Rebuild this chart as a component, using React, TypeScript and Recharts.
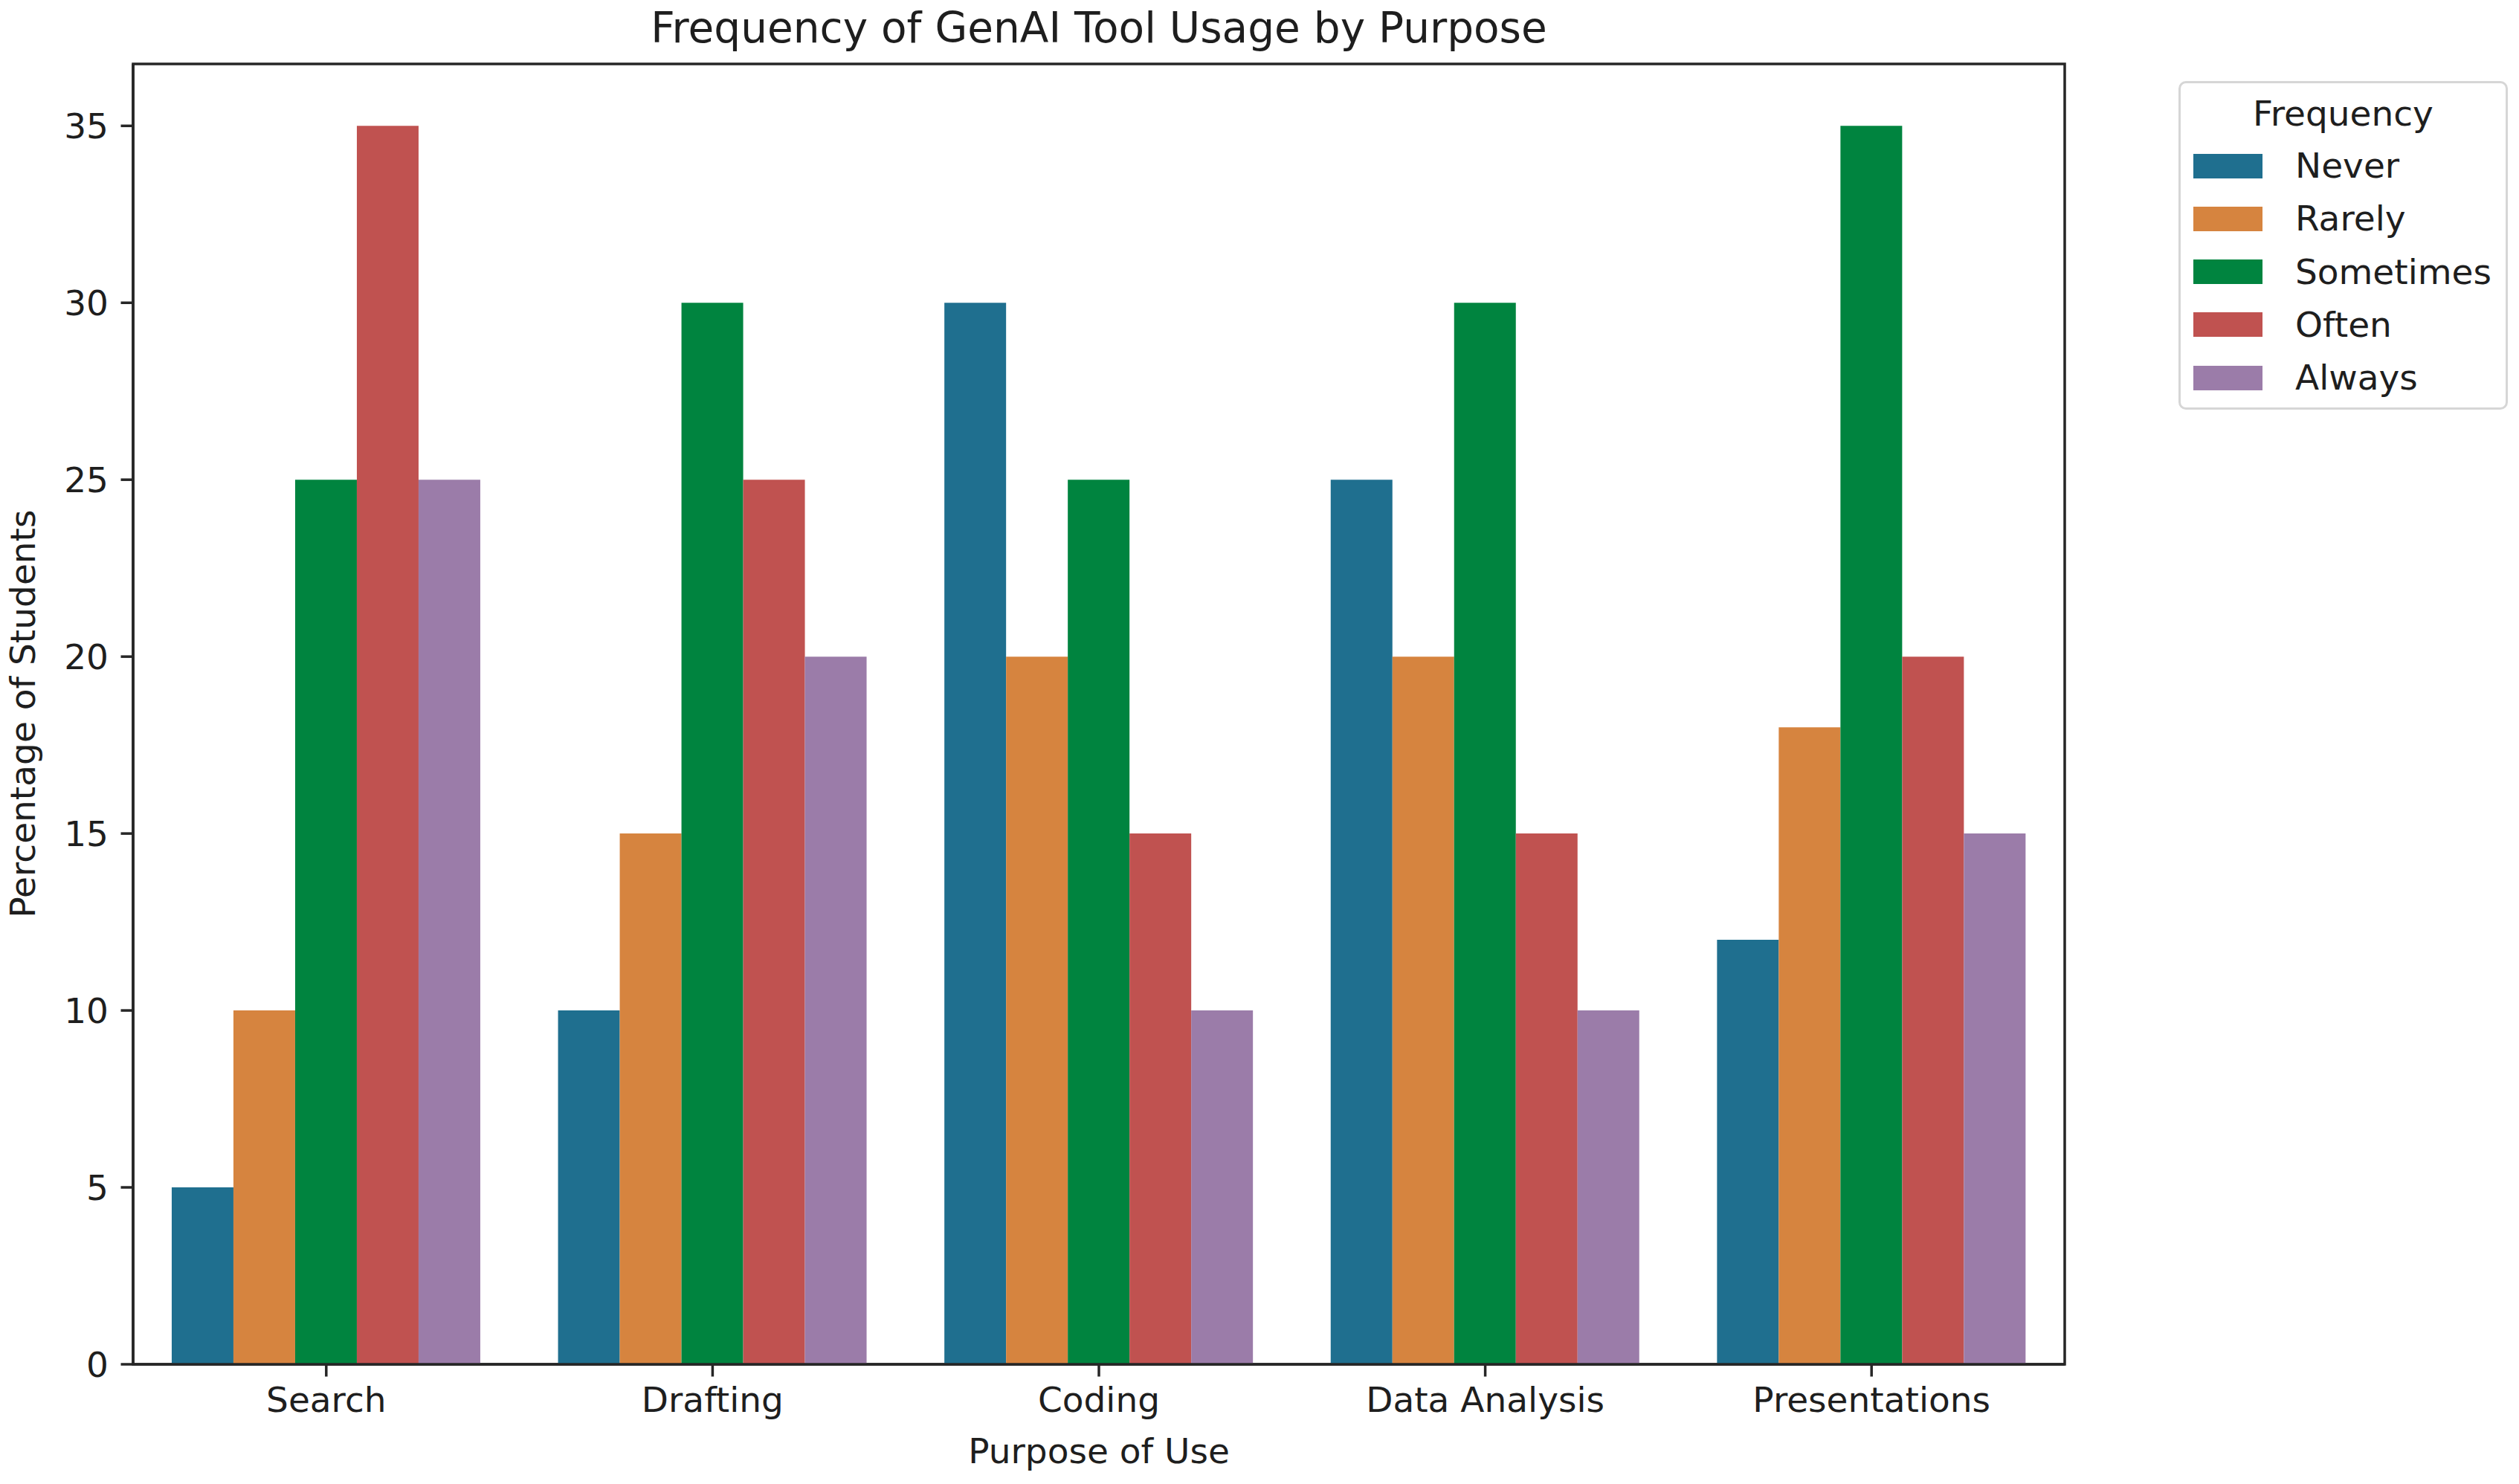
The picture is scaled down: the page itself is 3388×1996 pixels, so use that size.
import React from 'react';
import { BarChart, Bar, XAxis, YAxis, Legend, ReferenceArea } from 'recharts';

const categories = ['Search', 'Drafting', 'Coding', 'Data Analysis', 'Presentations'];
const frequencies = ['Never', 'Rarely', 'Sometimes', 'Often', 'Always'];
const neverValues = [5, 10, 30, 25, 12];
const rarelyValues = [10, 15, 20, 20, 18];
const sometimesValues = [25, 30, 25, 30, 35];
const oftenValues = [35, 25, 15, 15, 20];
const alwaysValues = [25, 20, 10, 10, 15];
const yTicks = [0, 5, 10, 15, 20, 25, 30, 35];
const yMax = 36.75;
const colors = ['#1f6f8f', '#d6843f', '#00843f', '#c05250', '#9b7ca9'];

const seriesValues = [neverValues, rarelyValues, sometimesValues, oftenValues, alwaysValues];

const data = categories.map((c, i) => {
  const row: any = { purpose: c };
  frequencies.forEach((f, j) => {
    row[f] = seriesValues[j][i];
  });
  return row;
});

const FONT = 'DejaVu Sans, Liberation Sans, sans-serif';
const INK = '#1e1e1e';
const SPINE = '#262626';

const LegendBox = () => (
  <div
    style={{
      position: 'relative',
      width: 443,
      height: 442,
      boxSizing: 'border-box',
      border: '3px solid #d6d6d6',
      borderRadius: 10,
      background: 'rgba(255,255,255,0.8)',
      fontFamily: FONT,
      color: INK,
    }}
  >
    <div
      style={{
        position: 'absolute',
        left: 0,
        right: 0,
        top: 41 - 30,
        height: 60,
        lineHeight: '60px',
        textAlign: 'center',
        fontSize: 47,
      }}
    >
      Frequency
    </div>
    {frequencies.map((f, i) => (
      <div
        key={f}
        style={{
          position: 'absolute',
          left: 0,
          top: 111 + i * 71.3 - 30,
          height: 60,
          display: 'flex',
          alignItems: 'center',
        }}
      >
        <div style={{ marginLeft: 17, width: 93, height: 33, background: colors[i] }} />
        <div style={{ marginLeft: 44, fontSize: 47, lineHeight: '60px', whiteSpace: 'nowrap' }}>{f}</div>
      </div>
    ))}
  </div>
);

export default function App() {
  return (
    <div style={{ position: 'absolute', left: 0, top: 0, background: '#fff' }}>
      <BarChart
        width={3388}
        height={1996}
        data={data}
        margin={{ top: 86, right: 611, bottom: 0, left: 0 }}
        barCategoryGap="10%"
        barGap={0}
      >
        <XAxis
          dataKey="purpose"
          height={161}
          interval={0}
          tickSize={16.5}
          tickMargin={14}
          tick={{ fontSize: 47, fill: INK, fontFamily: FONT }}
          axisLine={{ stroke: SPINE, strokeWidth: 3.5 }}
          tickLine={{ stroke: SPINE, strokeWidth: 3.5 }}
        />
        <YAxis
          type="number"
          domain={[0, yMax]}
          ticks={yTicks}
          allowDataOverflow
          width={179}
          tickSize={16.5}
          tickMargin={16.5}
          tick={{ fontSize: 47, fill: INK, fontFamily: FONT }}
          axisLine={{ stroke: SPINE, strokeWidth: 3.5 }}
          tickLine={{ stroke: SPINE, strokeWidth: 3.5 }}
        />
        {frequencies.map((f, i) => (
          <Bar key={f} dataKey={f} fill={colors[i]} isAnimationActive={false} />
        ))}
        <ReferenceArea
          x1={categories[0]}
          x2={categories[categories.length - 1]}
          y1={0}
          y2={yMax}
          fill="none"
          fillOpacity={0}
          stroke={SPINE}
          strokeWidth={3.5}
          ifOverflow="visible"
        />
        <Legend
          layout="vertical"
          align="center"
          verticalAlign="middle"
          wrapperStyle={{ left: 2930, top: 109, width: 443, height: 442 }}
          content={() => <LegendBox />}
        />
        <text
          x={1478}
          y={57}
          textAnchor="middle"
          fontSize={56.5}
          fontFamily={FONT}
          fill={INK}
        >
          Frequency of GenAI Tool Usage by Purpose
        </text>
        <text
          x={1478}
          y={1968}
          textAnchor="middle"
          fontSize={47}
          fontFamily={FONT}
          fill={INK}
        >
          Purpose of Use
        </text>
        <text
          x={47}
          y={960}
          textAnchor="middle"
          fontSize={47}
          fontFamily={FONT}
          fill={INK}
          transform="rotate(-90 47 960)"
        >
          Percentage of Students
        </text>
      </BarChart>
    </div>
  );
}
